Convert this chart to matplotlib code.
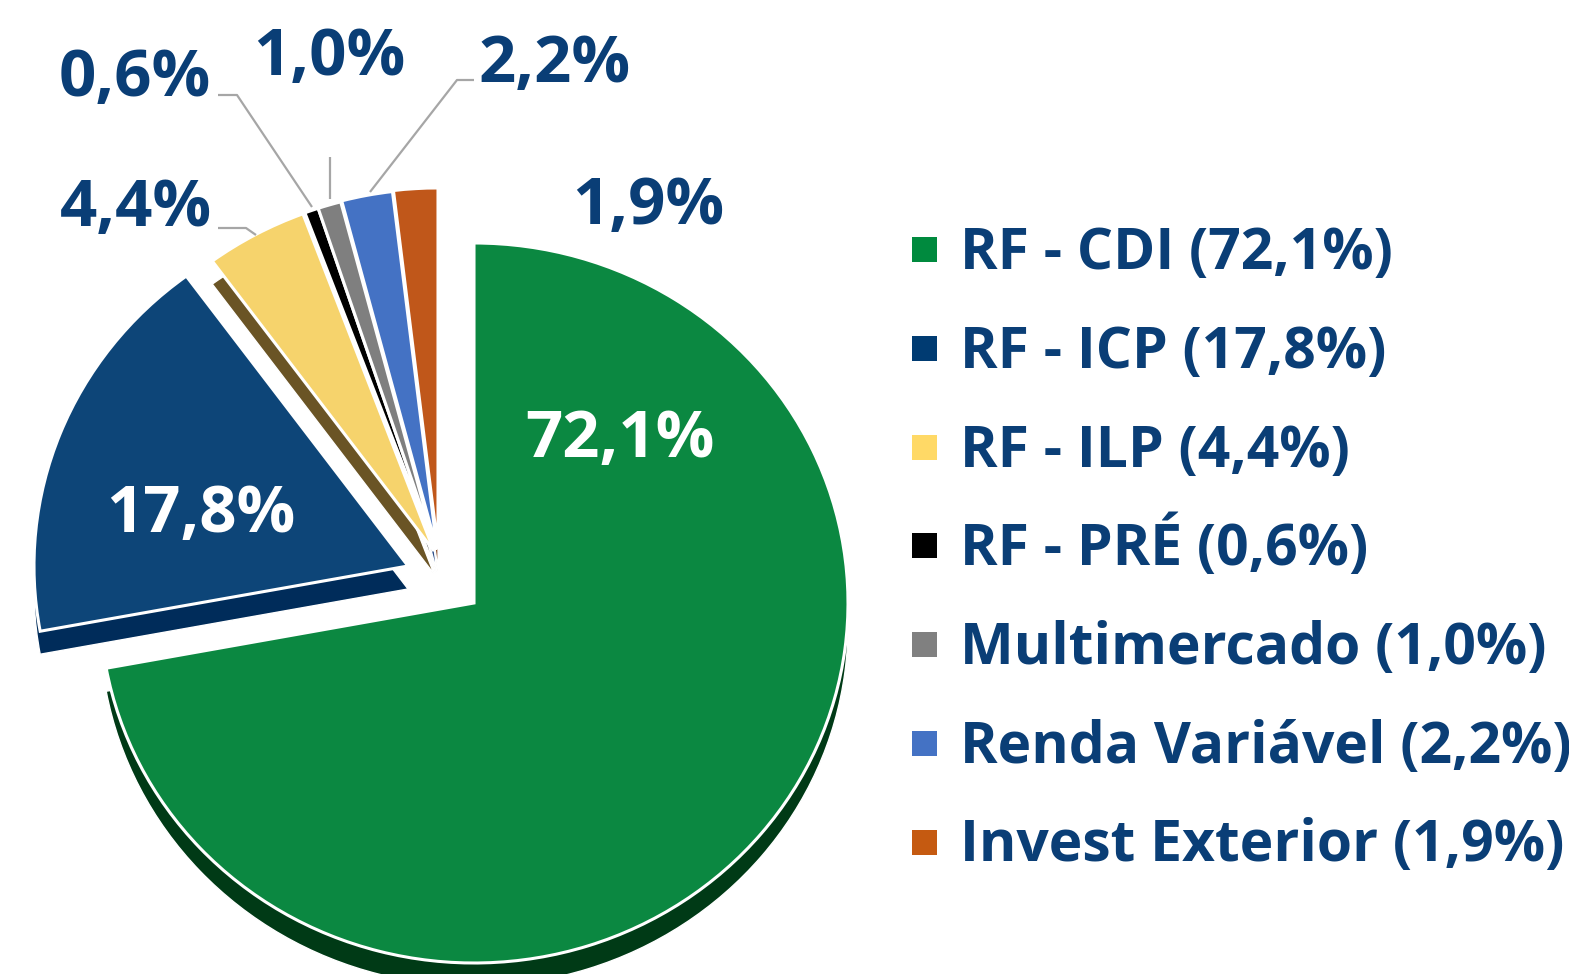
import matplotlib
matplotlib.use('Agg')
import matplotlib.pyplot as plt
import numpy as np

# ---- data ----
categories = ['RF - CDI', 'RF - ICP', 'RF - ILP', 'RF - PRÉ', 'Multimercado',
              'Renda Variável', 'Invest Exterior']
values = [72.1, 17.8, 4.4, 0.6, 1.0, 2.2, 1.9]
pie_labels = ['72,1%', '17,8%', '4,4%', '0,6%', '1,0%', '2,2%', '1,9%']
legend_labels = [f'{c} ({l})' for c, l in zip(categories, pie_labels)]

face_colors = ['#0b8841', '#0d4578', '#f6d36c', '#000000', '#7f7f7f', '#4472c4', '#c0571a']
legend_colors = ['#008a3e', '#003b72', '#ffd966', '#000000', '#808080', '#4472c4', '#c55a11']
side_colors = ['#003a16', '#002c5a', '#6a5425', '#1a1a1a', '#4a4a4a', '#2c4e8a', '#7a360c']

NAVY = '#0a3e76'
FONT = 'Open Sans'

# ---- geometry (pixel-like coordinates) ----
W, H = 1569, 974
KY = 360 / 374.0          # vertical squash of the pie (tilted look)


def Y(py):
    return (H - py) / KY


fig = plt.figure(figsize=(W / 100, H / 100), dpi=100)
ax = fig.add_axes([0, 0, 1, 1])

R = 374
cx, cy = 474, 603
depth = 23
explode = [0, 0, 0.015, 0.02, 0.02, 0.025, 0.025]
# translation (px) applied to exploded groups
offsets = [(0, 0), (-66, -37), (-40, -52), (-38, -53), (-38, -53), (-37, -54), (-36, -55)]

# side (depth) pie
side, _ = ax.pie(values, colors=side_colors, startangle=90, counterclock=False,
                 radius=R, center=(cx, Y(cy + depth)), explode=explode,
                 wedgeprops=dict(edgecolor='white', linewidth=1.0))
faces, _ = ax.pie(values, colors=face_colors, startangle=90, counterclock=False,
                  radius=R, center=(cx, Y(cy)), explode=explode,
                  wedgeprops=dict(edgecolor='white', linewidth=2.2))
for w, (dx, dy) in zip(side, offsets):
    c = w.center
    w.set_center((c[0] + dx, c[1] - dy / KY))
    w.set_zorder(1)
for w, (dx, dy) in zip(faces, offsets):
    c = w.center
    w.set_center((c[0] + dx, c[1] - dy / KY))
    w.set_zorder(2)

ax.set_aspect('auto')
ax.set_xlim(0, W)
ax.set_ylim(0, H / KY)
ax.axis('off')

# ---- pie labels ----
lab_pos = [(620, 457, 'white'), (201, 532, 'white'), (136, 226, NAVY),
           (135, 96, NAVY), (329, 75, NAVY), (555, 82, NAVY), (648, 224, NAVY)]
for txt, (x, yb, col) in zip(pie_labels, lab_pos):
    ax.text(x, Y(yb), txt, ha='center', va='baseline', color=col,
            fontsize=47, fontweight='bold', family=FONT, zorder=5)

# leader lines
lc = '#a6a6a6'
leaders = [
    [(218, 228), (246, 228), (256, 235)],   # 4,4%
    [(218, 95), (237, 95), (312, 207)],     # 0,6%
    [(330, 157), (330, 199)],               # 1,0%
    [(474, 80), (457, 80), (370, 192)],     # 2,2%
]
for pts in leaders:
    xs = [p[0] for p in pts]
    ys = [Y(p[1]) for p in pts]
    ax.plot(xs, ys, color=lc, lw=1.6, zorder=4, solid_capstyle='butt')

# ---- legend (manual) ----
row0, step = 249, 98.75
for i, (lab, col) in enumerate(zip(legend_labels, legend_colors)):
    yc = row0 + step * i
    ax.scatter([924], [Y(yc)], marker='s', s=18 ** 2, color=col, zorder=5,
               linewidths=0)
    ax.text(960, Y(yc + 20), lab, ha='left', va='baseline', color=NAVY,
            fontsize=41, fontweight='bold', family=FONT, zorder=5)

fig.savefig('out.png', dpi=100, facecolor='white')
